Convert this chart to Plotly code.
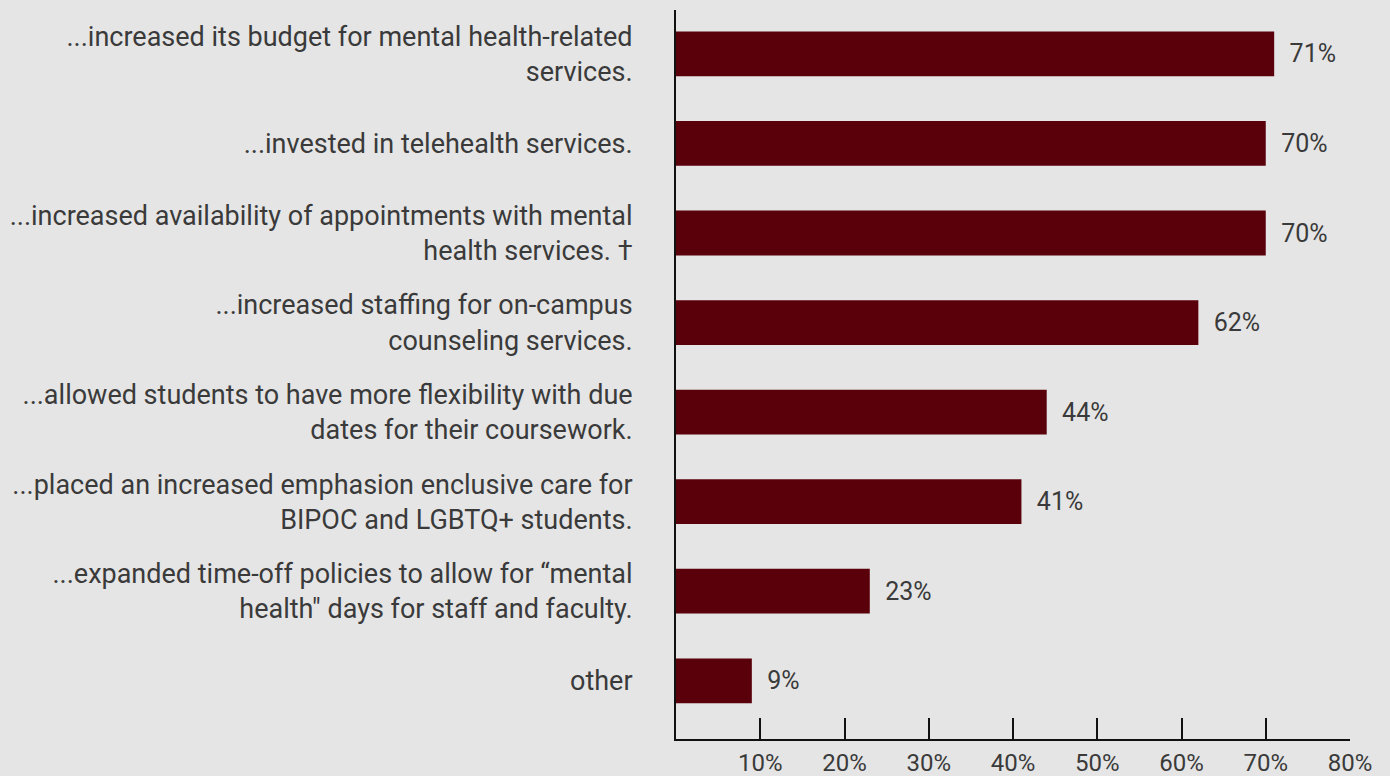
import plotly.graph_objects as go

categories = [
    "...increased its budget for mental health-related<br>services.",
    "...invested in telehealth services.",
    "...increased availability of appointments with mental<br>health services. †",
    "...increased staffing for on-campus<br>counseling services.",
    "...allowed students to have more flexibility with due<br>dates for their coursework.",
    "...placed an increased emphasion enclusive care for<br>BIPOC and LGBTQ+ students.",
    "...expanded time-off policies to allow for “mental<br>health\" days for staff and faculty.",
    "other",
]
values = [71, 70, 70, 62, 44, 41, 23, 9]
tick_values = [10, 20, 30, 40, 50, 60, 70, 80]
tick_labels = ["10%", "20%", "30%", "40%", "50%", "60%", "70%", "80%"]

BG = "#e5e5e5"
BAR = "#5a000b"
TXT = "#3a3a3a"
FONT = "Roboto"

fig = go.Figure()
fig.add_trace(go.Bar(
    x=values,
    y=list(range(len(categories))),
    orientation="h",
    width=0.5,
    marker=dict(color=BAR, line=dict(width=0)),
    text=[f"{v}%" for v in values],
    texttemplate="  %{text}",
    textposition="outside",
    textfont=dict(family=FONT, size=25, color=TXT),
    cliponaxis=False,
))

fig.update_layout(
    width=1390, height=776,
    paper_bgcolor=BG, plot_bgcolor=BG,
    margin=dict(l=676, r=40, t=10, b=37),
    showlegend=False,
    font=dict(family=FONT, size=22, color=TXT),
    bargap=0.5,
)
fig.update_xaxes(
    range=[0, 80], automargin=False,
    tickvals=tick_values, ticktext=tick_labels,
    ticks="inside", ticklen=21, tickwidth=2, tickcolor="#111111",
    showline=True, linecolor="#111111", linewidth=2,
    showgrid=False, zeroline=False,
    ticklabelstandoff=1,
    tickfont=dict(family=FONT, size=24, color=TXT),
)
fig.update_yaxes(
    range=[7.65, -0.49], automargin=False,
    tickvals=list(range(len(categories))), ticktext=categories,
    ticks="", showline=True, linecolor="#111111", linewidth=2,
    showgrid=False, zeroline=False,
    ticklabelstandoff=36,
    tickfont=dict(family=FONT, size=27, color=TXT),
)

fig.write_html("out.html", config={"displayModeBar": False},
               post_script="document.body.style.margin='0';")
